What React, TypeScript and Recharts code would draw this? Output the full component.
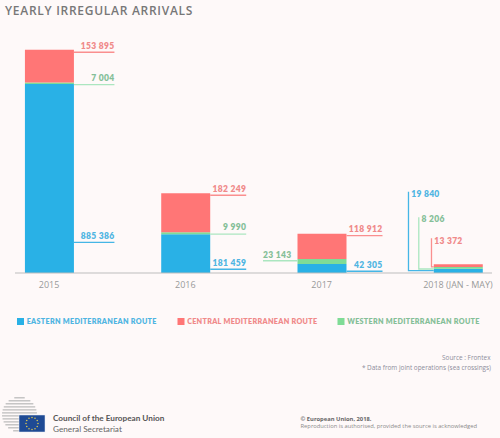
import React from 'react';
import { BarChart, Bar, XAxis, YAxis, LabelList } from 'recharts';

const yearLabels = ['2015', '2016', '2017', '2018 (JAN - MAY)'];
const yearIndex = [0, 1, 2, 3];
const eastern = [885386, 181459, 42305, 19840];
const western = [7004, 9990, 23143, 8206];
const central = [153895, 182249, 118912, 13372];

const rows = yearIndex.map((i) => ({
  idx: i,
  eastern: eastern[i],
  western: western[i],
  central: central[i],
}));

const BLUE = '#29b1e6';
const RED = '#ff7676';
const GREEN = '#7fdc96';
const lineColor: Record<string, string> = { eastern: '#45b6e6', central: '#fa8f8f', western: '#abe6c0' };
const textColor: Record<string, string> = { eastern: '#4fb5e2', central: '#f08a8a', western: '#85bf98' };
const fmt = (v: number) => String(v).replace(/\B(?=(\d{3})+$)/g, ' ');
const LABEL_FONT = 'Lato, sans-serif';
const TEXT_FONT = '"Open Sans", sans-serif';

// Leader-line offsets relative to the bar rectangle
type Leader = { dy: number; kind: 'right' | 'left' | 'elbow'; vx?: number; top?: number; tdy?: number };
const leaders: Record<string, Leader[]> = {
  central: [
    { dy: 2.6, kind: 'right' },
    { dy: 2, kind: 'right' },
    { dy: 2, kind: 'right' },
    { dy: 2.8, kind: 'elbow', vx: 2.3, top: 28.7, tdy: -26.3 },
  ],
  western: [
    { dy: 2.2, kind: 'right' },
    { dy: 1.9, kind: 'right' },
    { dy: 1.7, kind: 'left' },
    { dy: 2, kind: 'elbow', vx: 15, top: 51.7, tdy: -50.3 },
  ],
  eastern: [
    { dy: 158.3, kind: 'right' },
    { dy: 35, kind: 'right' },
    { dy: 7.3, kind: 'right' },
    { dy: 1.9, kind: 'elbow', vx: 25.3, top: 79, tdy: -76.7 },
  ],
};

const makeLabel = (key: string) => (props: any) => {
  const { x, y, width, value, index } = props;
  const l = leaders[key][index];
  const ly = y + l.dy;
  const color = lineColor[key];
  const tc = textColor[key];
  const common = {
    fill: tc,
    fontFamily: LABEL_FONT,
    fontWeight: 800,
    fontSize: 8.5,
    letterSpacing: 0.3,
    dominantBaseline: 'central' as const,
  };
  if (l.kind === 'right') {
    const x1 = x + width;
    const x2 = x1 + 36 + (index === 0 ? 4.5 : 0);
    return (
      <g>
        <line x1={x1} x2={x2} y1={ly} y2={ly} stroke={color} strokeWidth={1.3} />
        <text x={x2} y={ly - 6.6} textAnchor="end" {...common}>{fmt(value)}</text>
      </g>
    );
  }
  if (l.kind === 'left') {
    return (
      <g>
        <line x1={x - 34.5} x2={x} y1={ly} y2={ly} stroke={color} strokeWidth={1.3} />
        <text x={x - 34.5} y={ly - 5.7} textAnchor="start" {...common}>{fmt(value)}</text>
      </g>
    );
  }
  const vx = x - (l.vx as number);
  return (
    <g>
      <path d={`M${vx} ${ly - (l.top as number)} V${ly} H${x}`} fill="none" stroke={color} strokeWidth={1.3} />
      <text x={vx + 2.7} y={ly + (l.tdy as number)} textAnchor="start" {...common}>{fmt(value)}</text>
    </g>
  );
};

const legendItems = [
  { name: 'EASTERN MEDITERRANEAN ROUTE', swatch: BLUE, text: '#4fb5e2', x: 17 },
  { name: 'CENTRAL MEDITERRANEAN ROUTE', swatch: RED, text: '#f08a8a', x: 177.5 },
  { name: 'WESTERN MEDITERRANEAN ROUTE', swatch: GREEN, text: '#85bf98', x: 337.5 },
];

const stripeRows = [0, 1, 2, 3, 4, 5, 6, 7, 8, 9, 10, 11];
const starRows = [0, 1, 2, 3, 4, 5, 6, 7, 8, 9, 10, 11];

const Overlay = () => (
  <svg width={500} height={438} style={{ position: 'absolute', left: 0, top: 0 }}>
    <text x={5} y={10} dominantBaseline="central" fontFamily={TEXT_FONT} fontWeight={600} fontSize={12} letterSpacing={0.72} fill="#777777">
      YEARLY IRREGULAR ARRIVALS
    </text>
    {legendItems.map((it) => (
      <g key={it.name}>
        <rect x={it.x} y={318} width={7} height={7} fill={it.swatch} />
        <text x={it.x + 9.7} y={321.7} dominantBaseline="central" fontFamily={LABEL_FONT} fontWeight={800} fontSize={7.2} letterSpacing={0.3} fill={it.text}>
          {it.name}
        </text>
      </g>
    ))}
    <text x={490.5} y={357} textAnchor="end" dominantBaseline="central" fontFamily={TEXT_FONT} fontSize={6.4} fill="#8d8d9b">Source : Frontex</text>
    <text x={491} y={367} textAnchor="end" dominantBaseline="central" fontFamily={TEXT_FONT} fontSize={6.4} fill="#8d8d9b">* Data from joint operations (sea crossings)</text>
    {stripeRows.map((i) => {
      const y = 397.8 + i * 3;
      const cy = 414.5;
      const r = 17.5;
      const half = Math.sqrt(Math.max(0, r * r - (y - cy) * (y - cy)));
      return <line key={i} x1={19.5 - half} x2={19.5 + half} y1={y} y2={y} stroke="#bcbcbc" strokeWidth={1.3} />;
    })}
    <rect x={19} y={415} width={26} height={17} fill="#1f4a94" stroke="#e8eef5" strokeWidth={0.5} />
    {starRows.map((i) => (
      <circle key={i} cx={32 + 6 * Math.cos((i * Math.PI) / 6)} cy={423.5 + 6 * Math.sin((i * Math.PI) / 6)} r={0.7} fill="#f2d64b" />
    ))}
    <text x={53} y={417.7} dominantBaseline="central" fontFamily={LABEL_FONT} fontWeight={700} fontSize={8.2} fill="#555555">Council of the European Union</text>
    <text x={53} y={429} dominantBaseline="central" fontFamily={LABEL_FONT} fontSize={8.2} fill="#666666">General Secretariat</text>
    <text x={300.5} y={418.7} dominantBaseline="central" fontFamily={TEXT_FONT} fontWeight={700} fontSize={5.8} fill="#666666">© European Union, 2018.</text>
    <text x={300.5} y={426.3} dominantBaseline="central" fontFamily={TEXT_FONT} fontSize={5.8} fill="#8a8a8a">Reproduction is authorised, provided the source is acknowledged</text>
  </svg>
);

export default function App() {
  return (
    <div style={{ position: 'absolute', left: 0, top: 0, width: 500, height: 438, background: '#fef9f9', overflow: 'hidden' }}>
      <BarChart width={500} height={438} data={rows} margin={{ top: 38.2, right: 8, bottom: 145, left: 15 }} barSize={49}>
        <XAxis
          dataKey="idx"
          type="number"
          domain={[-0.25, 3.25]}
          ticks={yearIndex}
          interval={0}
          tickFormatter={(i: number) => yearLabels[i]}
          tickLine={false}
          axisLine={{ stroke: '#bdbdbd', strokeWidth: 1 }}
          tick={{ fill: '#999999', fontFamily: TEXT_FONT, fontSize: 9 }}
          tickMargin={3}
          height={20}
        />
        <YAxis hide type="number" domain={[0, 1100000]} />
        <Bar dataKey="eastern" stackId="a" fill={BLUE} isAnimationActive={false}>
          <LabelList dataKey="eastern" content={makeLabel('eastern')} />
        </Bar>
        <Bar dataKey="western" stackId="a" fill={GREEN} isAnimationActive={false}>
          <LabelList dataKey="western" content={makeLabel('western')} />
        </Bar>
        <Bar dataKey="central" stackId="a" fill={RED} isAnimationActive={false}>
          <LabelList dataKey="central" content={makeLabel('central')} />
        </Bar>
      </BarChart>
      <Overlay />
    </div>
  );
}
